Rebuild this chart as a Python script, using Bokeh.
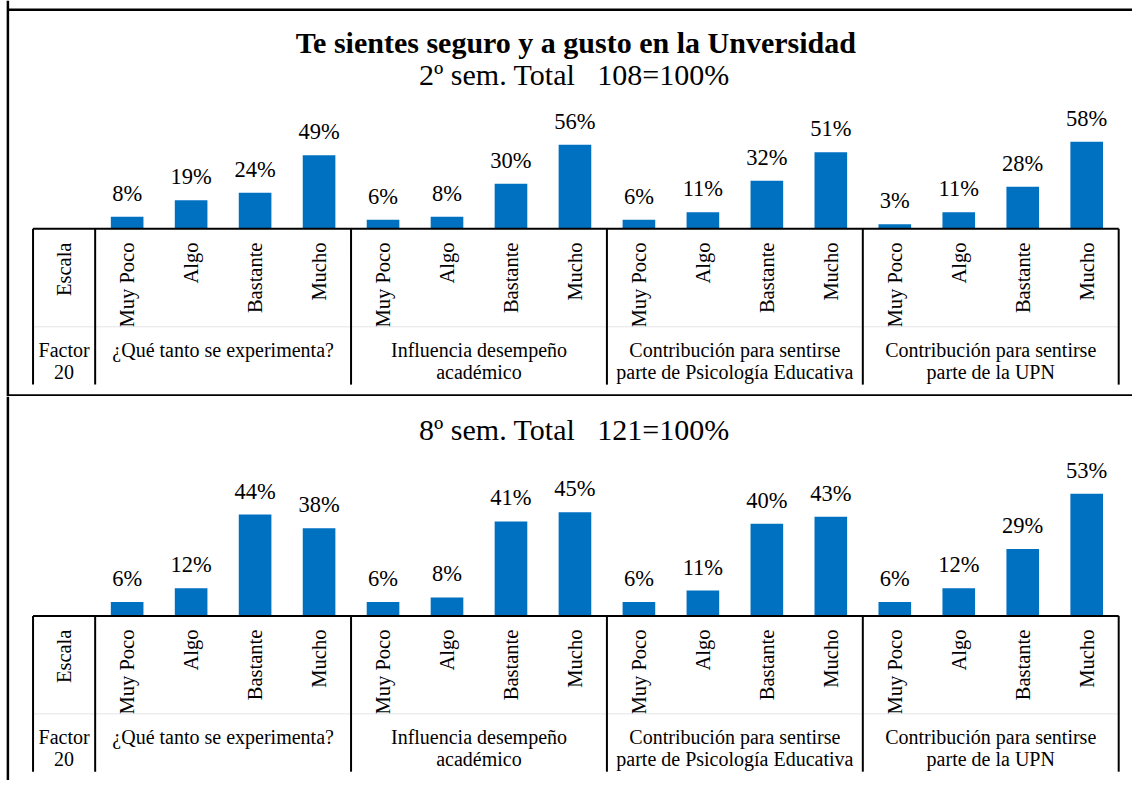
import math
from bokeh.plotting import figure
from bokeh.layouts import column
from bokeh.models import Range1d, ColumnDataSource
from bokeh.core.properties import value
from bokeh.embed import file_html
from bokeh.resources import INLINE

# ---------------- data ----------------
title = "Te sientes seguro y a gusto en la Unversidad"
subtitle_2 = "2º sem. Total\u00a0\u00a0\u00a0108=100%"
subtitle_8 = "8º sem. Total\u00a0\u00a0\u00a0121=100%"
scale_labels = ["Muy Poco", "Algo", "Bastante", "Mucho"]
factor_labels = [
    "¿Qué tanto se experimenta?",
    "Influencia desempeño\nacadémico",
    "Contribución para sentirse\nparte de Psicología Educativa",
    "Contribución para sentirse\nparte de la UPN",
]
row_header_scale = "Escala"
row_header_factor = "Factor\n20"

sem2_que_tanto = [8, 19, 24, 49]
sem2_influencia = [6, 8, 30, 56]
sem2_psicologia = [6, 11, 32, 51]
sem2_upn = [3, 11, 28, 58]

sem8_que_tanto = [6, 12, 44, 38]
sem8_influencia = [6, 8, 41, 45]
sem8_psicologia = [6, 11, 40, 43]
sem8_upn = [6, 12, 29, 53]

# ---------------- layout / style ----------------
W, H = 1132, 780
SX, SY = W / 1148, H / 796          # reference-pixel -> canvas-pixel
SLOT = 64.875 * SX                  # px per category slot
X0 = 96 * SX                        # canvas px of first slot boundary
TABLE_LEFT = 33 * SX                # canvas px of table left edge
FONT = "Liberation Serif"
BLUE = "#0070C0"
H1 = 396
H2 = H - H1


def make_panel(height, top_ref, base_ref, px_per_pct, groups, subtitle, sub_center_ref, with_title):
    base_px = (base_ref - top_ref) * SY
    S = px_per_pct * SY
    p = figure(width=W, height=height, output_backend="svg", toolbar_location=None,
               x_axis_type=None, y_axis_type=None, min_border=0,
               x_range=Range1d(-X0 / SLOT, (W - X0) / SLOT),
               y_range=Range1d(-(height - base_px) / S, base_px / S))
    p.outline_line_color = None
    p.background_fill_color = "white"
    p.border_fill_color = "white"
    p.xgrid.visible = False
    p.ygrid.visible = False

    def dx(cx):
        return (cx - X0) / SLOT

    def dy(cy):
        return (base_px - cy) / S

    def below(ref_off):
        return dy(base_px + ref_off * SY)

    n_cat = len(scale_labels)
    xs, tops, labels, cats = [], [], [], []
    for g, vals in enumerate(groups):
        for c, v in enumerate(vals):
            xs.append(g * n_cat + c + 0.5)
            tops.append(v)
            labels.append(f"{v}%")
            cats.append(scale_labels[c])
    src = ColumnDataSource(dict(x=xs, top=tops, label=labels, cat=cats))

    # bars
    p.vbar(x="x", top="top", bottom=0, width=0.51, source=src,
           fill_color=BLUE, line_color=None)
    # value labels
    p.text(x="x", y="top", text="label", source=src, y_offset=-23.5,
           text_align="center", text_baseline="middle",
           text_font=value(FONT), text_font_size="22.5px", text_color="black")
    # rotated scale labels
    p.text(x="x", y=below(14), text="cat", source=src, angle=math.pi / 2,
           text_align="right", text_baseline="middle",
           text_font=value(FONT), text_font_size="20.5px", text_color="black")
    p.text(x=[dx(64.5 * SX)], y=[below(14)], text=[row_header_scale], angle=math.pi / 2,
           text_align="right", text_baseline="middle",
           text_font=value(FONT), text_font_size="20.5px", text_color="black")

    # factor row
    n_grp = len(groups)
    fx, fy, ft = [], [], []
    for i, line in enumerate(row_header_factor.split("\n")):
        fx.append(dx(64.5 * SX)); fy.append(below(123.5 + 22.5 * i)); ft.append(line)
    for g, lab in enumerate(factor_labels):
        for i, line in enumerate(lab.split("\n")):
            fx.append(g * n_cat + n_cat / 2); fy.append(below(123.5 + 22.5 * i)); ft.append(line)
    p.text(x=fx, y=fy, text=ft, text_align="center", text_baseline="middle",
           text_font=value(FONT), text_font_size="20px", text_color="black")

    # table lines
    right = n_grp * n_cat
    p.segment(x0=[dx(TABLE_LEFT)], y0=[below(100)], x1=[right], y1=[below(100)],
              line_color="#e4e4e4", line_width=1)
    vx = [dx(TABLE_LEFT)] + [g * n_cat for g in range(n_grp + 1)]
    p.segment(x0=vx, y0=[0] * len(vx), x1=vx, y1=[below(159)] * len(vx),
              line_color="black", line_width=2)
    p.segment(x0=[dx(TABLE_LEFT)], y0=[0], x1=[right], y1=[0],
              line_color="black", line_width=2)

    # panel border lines
    lx = dx(7.5 * SX)
    bx0, by0, bx1, by1 = [lx], [dy(0)], [lx], [dy(height)]
    if with_title:
        bx0 += [lx, lx]; by0 += [dy(9.5 * SY), dy(height - 1)]
        bx1 += [dx(W), dx(W)]; by1 += [dy(9.5 * SY), dy(height - 1)]
    p.segment(x0=bx0, y0=by0, x1=bx1, y1=by1, line_color="black", line_width=2.5)

    # titles
    if with_title:
        p.text(x=[dx(583.5 * SX)], y=[dy(43 * SY)], text=[title], text_align="center",
               text_baseline="middle", text_font=value(FONT), text_font_size="30px",
               text_font_style="bold", text_color="black")
    p.text(x=[dx(582 * SX)], y=[dy((sub_center_ref - top_ref) * SY)], text=[subtitle],
           text_align="center", text_baseline="middle", text_font=value(FONT),
           text_font_size="30px", text_color="black")
    return p


p1 = make_panel(H1, 0, 233, 1.53,
                [sem2_que_tanto, sem2_influencia, sem2_psicologia, sem2_upn],
                subtitle_2, 76, True)
p2 = make_panel(H2, H1 / SY, 628, 2.35,
                [sem8_que_tanto, sem8_influencia, sem8_psicologia, sem8_upn],
                subtitle_8, 437.5, False)

layout = column(p1, p2, spacing=0)
open("out.html", "w").write(file_html(layout, INLINE))
